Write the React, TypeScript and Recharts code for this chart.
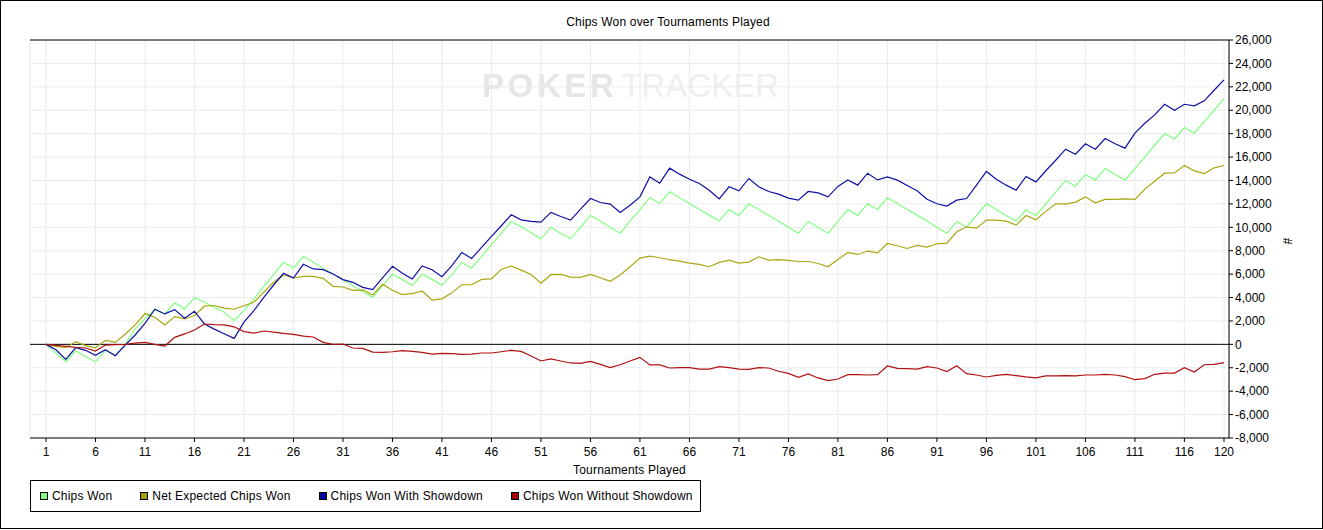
import React from "react";
import { LineChart, Line, XAxis, YAxis, CartesianGrid, ReferenceLine, Legend } from "recharts";

// cumulative chips after each tournament
const chipsWon = [
  0, -750, -1490, -570, -1030, -1490, -515, -970, 20, 1300,
  2200, 3000, 2600, 3550, 3030, 4000, 3600, 3170, 2740, 2030,
  2880, 3880, 4960, 5960, 7010, 6530, 7500, 7010, 6500, 6010,
  5500, 5020, 4500, 4020, 5020, 5990, 5530, 5020, 6010, 5550,
  5050, 5950, 7000, 6510, 7510, 8510, 9500, 10500, 10040, 9530,
  9020, 10010, 9500, 9020, 10010, 11010, 10530, 10010, 9500, 10530,
  11500, 12530, 12030, 13030, 12520, 12030, 11520, 11040, 10530, 11520,
  11010, 12010, 11520, 11010, 10530, 10010, 9500, 10500, 10010, 9500,
  10500, 11520, 11010, 12010, 11520, 12520, 12030, 11520, 11040, 10530,
  10010, 9500, 10500, 10010, 11010, 12010, 11520, 11010, 10530, 11500,
  11010, 12010, 13000, 14000, 13510, 14510, 14030, 15020, 14510, 14030,
  15020, 16020, 17010, 18010, 17530, 18520, 18040, 19030, 20000, 21000,
];

const netExpected = [
  0, -170, -290, 230, -110, -290, 340, 170, 860, 1660,
  2630, 2320, 1660, 2370, 2170, 2460, 3260, 3320, 3090, 3000,
  3300, 3600, 4450, 5300, 5930, 5670, 5810, 5810, 5640, 4960,
  4900, 4620, 4650, 4220, 5130, 4620, 4250, 4330, 4560, 3780,
  3890, 4400, 5090, 5090, 5550, 5600, 6400, 6690, 6340, 5970,
  5230, 5950, 5970, 5750, 5720, 5970, 5690, 5380, 5920, 6630,
  7370, 7540, 7400, 7230, 7110, 6940, 6830, 6630, 7000, 7200,
  6940, 7030, 7480, 7200, 7230, 7170, 7080, 7080, 6910, 6630,
  7250, 7850, 7680, 7970, 7820, 8620, 8420, 8190, 8450, 8310,
  8590, 8650, 9620, 10040, 9930, 10610, 10610, 10530, 10190, 11010,
  10640, 11360, 12010, 11980, 12150, 12600, 12090, 12380, 12380, 12430,
  12380, 13260, 13940, 14620, 14650, 15280, 14820, 14590, 15080, 15280,
];

const withShowdown = [
  0, -460, -1290, -290, -510, -940, -460, -970, -60, 800,
  1800, 3000, 2600, 2970, 2230, 2830, 1740, 1300, 910, 510,
  1900, 2880, 4020, 5070, 6070, 5670, 6840, 6440, 6380, 6010,
  5530, 5300, 4870, 4670, 5670, 6670, 6070, 5590, 6700, 6380,
  5780, 6720, 7850, 7340, 8280, 9220, 10130, 11070, 10640, 10500,
  10440, 11270, 10920, 10610, 11550, 12460, 12120, 11980, 11270, 11890,
  12600, 14300, 13770, 15050, 14540, 14110, 13740, 13170, 12430, 13460,
  13120, 14170, 13460, 13060, 12830, 12490, 12320, 13060, 12940, 12600,
  13490, 14050, 13600, 14620, 14050, 14310, 14030, 13570, 13120, 12400,
  12010, 11810, 12320, 12460, 13600, 14770, 14110, 13600, 13170, 14340,
  13880, 14830, 15730, 16670, 16240, 17130, 16670, 17580, 17130, 16760,
  18040, 18890, 19600, 20510, 20000, 20510, 20370, 20800, 21710, 22590,
];

const withoutShowdown = [
  0, -90, -170, -260, -310, -570, -60, -30, 0, 110,
  170, 0, -140, 600, 890, 1230, 1740, 1690, 1660, 1500,
  1090, 960, 1140, 1050, 940, 860, 710, 630, 170, 0,
  30, -310, -340, -660, -680, -630, -540, -600, -680, -840,
  -770, -790, -850, -830, -740, -740, -630, -510, -600, -1000,
  -1420, -1250, -1420, -1590, -1620, -1450, -1710, -1990, -1740, -1420,
  -1110, -1760, -1760, -2020, -1990, -1990, -2110, -2110, -1910, -1990,
  -2110, -2130, -1990, -2020, -2300, -2480, -2820, -2530, -2870, -3100,
  -2960, -2590, -2590, -2620, -2590, -1850, -2050, -2080, -2110, -1910,
  -2020, -2330, -1820, -2500, -2620, -2790, -2650, -2560, -2670, -2780,
  -2870, -2700, -2700, -2670, -2700, -2620, -2620, -2560, -2620, -2760,
  -3020, -2930, -2560, -2450, -2450, -1990, -2360, -1740, -1710, -1560,
];

const xTicks = [1, 6, 11, 16, 21, 26, 31, 36, 41, 46, 51, 56, 61, 66, 71, 76, 81, 86, 91, 96, 101, 106, 111, 116, 120];
const yTicks = [-8000, -6000, -4000, -2000, 0, 2000, 4000, 6000, 8000, 10000, 12000, 14000, 16000, 18000, 20000, 22000, 24000, 26000];

const series = [
  { key: "chipsWon", name: "Chips Won", color: "#80ff80", swatch: "#80ff80" },
  { key: "netExpected", name: "Net Expected Chips Won", color: "#a8a810", swatch: "#a0a000" },
  { key: "withShowdown", name: "Chips Won With Showdown", color: "#1010a8", swatch: "#0000a0" },
  { key: "withoutShowdown", name: "Chips Won Without Showdown", color: "#b01010", swatch: "#a00000" },
];

const data = chipsWon.map((v, i) => ({
  game: i + 1,
  chipsWon: v,
  netExpected: netExpected[i],
  withShowdown: withShowdown[i],
  withoutShowdown: withoutShowdown[i],
}));

const FONT = '"Liberation Sans", Arial, sans-serif';
const W = 1323;
const H = 529;

const renderLegend = () => (
  <div
    style={{
      display: "flex",
      alignItems: "center",
      boxSizing: "border-box",
      width: 671,
      height: 32,
      border: "1px solid #000",
      paddingLeft: 9,
      fontFamily: FONT,
      fontSize: 12,
      letterSpacing: 0.2,
      color: "#000",
    }}
  >
    {series.map((s) => (
      <span key={s.key} style={{ display: "flex", alignItems: "center", marginRight: 28, whiteSpace: "nowrap" }}>
        <span
          style={{
            display: "inline-block",
            boxSizing: "border-box",
            width: 8,
            height: 8,
            background: s.swatch,
            border: "1px solid #000",
            marginRight: 4,
          }}
        />
        {s.name}
      </span>
    ))}
  </div>
);

const hashLabel = (props: any) => {
  const vb = props.viewBox;
  const x = vb.x + 58;
  const y = vb.y + vb.height / 2 + 2;
  return (
    <text
      x={x}
      y={y}
      textAnchor="middle"
      dominantBaseline="central"
      transform={`rotate(90 ${x} ${y})`}
      fontSize={12}
      fontFamily={FONT}
      fill="#000"
    >
      #
    </text>
  );
};

export default function App() {
  return (
    <div style={{ position: "absolute", left: 0, top: 0, width: W, height: H, background: "#fff", fontFamily: FONT }}>
      <div
        style={{
          position: "absolute",
          left: 668,
          top: 15,
          transform: "translateX(-50%)",
          whiteSpace: "nowrap",
          fontSize: 12,
          lineHeight: "14px",
          letterSpacing: 0.18,
          color: "#000",
        }}
      >
        Chips Won over Tournaments Played
      </div>

      {/* faint watermark behind the plot */}
      <div
        style={{
          position: "absolute",
          left: 482,
          top: 69,
          whiteSpace: "nowrap",
          fontSize: 33,
          lineHeight: "33px",
        }}
      >
        <span style={{ fontWeight: 700, color: "#e6e6e6", letterSpacing: 3.6 }}>POKER</span>
        <span style={{ color: "#efefef", marginLeft: 4 }}>TRACKER</span>
      </div>

      <LineChart width={W} height={H} data={data} margin={{ top: 40, right: 0, bottom: 51, left: 30 }}>
        <CartesianGrid stroke="#ebebeb" />
        <XAxis
          dataKey="game"
          type="number"
          domain={[1, 120]}
          ticks={xTicks}
          interval={0}
          padding={{ left: 16, right: 5 }}
          height={40}
          tickSize={4}
          tickMargin={5}
          axisLine={{ stroke: "#000" }}
          tickLine={{ stroke: "#000" }}
          tick={{ fill: "#000", fontSize: 12, fontFamily: FONT }}
          label={{ value: "Tournaments Played", position: "insideBottom", offset: 4.5, fill: "#000", fontSize: 12, fontFamily: FONT, letterSpacing: 0.2 }}
        />
        <YAxis
          orientation="right"
          width={94}
          domain={[-8000, 26000]}
          ticks={yTicks}
          interval={0}
          tickSize={4}
          tickMargin={2}
          axisLine={{ stroke: "#000" }}
          tickLine={{ stroke: "#000" }}
          tick={{ fill: "#000", fontSize: 12, fontFamily: FONT, textAnchor: "start" }}
          tickFormatter={(v: number) => v.toLocaleString("en-US")}
          label={hashLabel}
        />
        <YAxis
          yAxisId="left"
          orientation="left"
          width={0}
          domain={[-8000, 26000]}
          tick={false}
          tickLine={false}
          axisLine={{ stroke: "#000" }}
        />
        {/* plot frame top edge and the zero line */}
        <ReferenceLine y={26000} stroke="#000" strokeWidth={1} />
        <ReferenceLine y={0} stroke="#000" strokeWidth={1} />
        {series.map((s) => (
          <Line
            key={s.key}
            type="linear"
            dataKey={s.key}
            name={s.name}
            stroke={s.color}
            strokeWidth={1.2}
            dot={false}
            activeDot={false}
            isAnimationActive={false}
          />
        ))}
        <Legend
          layout="horizontal"
          verticalAlign="middle"
          align="center"
          content={renderLegend}
          wrapperStyle={{ left: 30, top: 480, width: 671, height: 32 }}
        />
      </LineChart>

      <div
        style={{
          position: "absolute",
          left: 0,
          top: 0,
          width: W,
          height: H,
          boxSizing: "border-box",
          border: "1px solid #000",
          pointerEvents: "none",
        }}
      />
    </div>
  );
}
